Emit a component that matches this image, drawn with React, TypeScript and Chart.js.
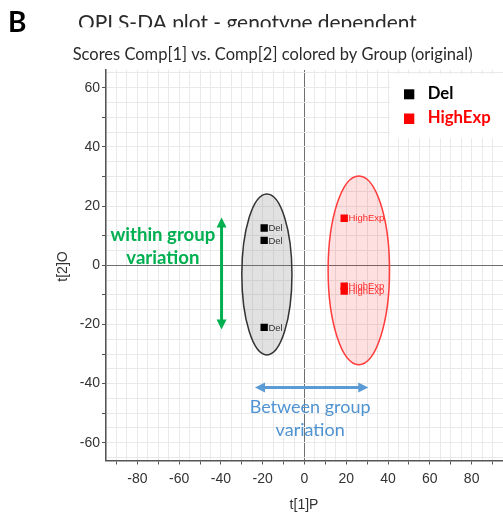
import React, { useEffect, useRef } from 'react';
import { Chart, registerables } from 'chart.js';

Chart.register(...registerables);

// ---- data ----
const groupNames = ['Del', 'HighExp'];
const groupColors = ['#000000', '#ff0000'];
const labelColors = ['#333333', '#ff2a2a'];
const delX = [-19.3, -19.3, -19.3];
const delY = [12.6, 8.4, -21.0];
const highExpX = [19.0, 19.0, 19.0];
const highExpY = [15.9, -7.1, -8.7];
// ellipse: [cx, cy, rx, ry] in data units
const delEllipse = [-18, -3.1, 12, 27.2];
const highExpEllipse = [26, -1.7, 14.7, 31.9];
// arrows: [x1, y1, x2, y2] in data units
const withinArrow = [-39.7, -21.7, -39.7, 16.1];
const betweenArrow = [-23.7, -41.3, 30.5, -41.3];
// annotation text: lines and anchors [cx, baselineY] in data units
const withinText = ['within group', 'variation'];
const withinAnchors = [[-67.8, 8.3], [-67.8, 0.5]];
const betweenText = ['Between group', 'variation'];
const betweenAnchors = [[2.7, -50.0], [2.7, -57.6]];
const xRange = [-95, 95];
const yRange = [-66, 66];
const mainTitle = 'OPLS-DA plot - genotype dependent';
const panelLetter = 'B';
const subTitle = 'Scores Comp[1] vs. Comp[2] colored by Group (original)';
const xTitle = 't[1]P';
const yTitle = 't[2]O';

const SANS = '"Liberation Sans", Arial, sans-serif';
const CAL = 'Lato, "Noto Sans", sans-serif';

function fitSize(ctx: CanvasRenderingContext2D, text: string, width: number, weight: string, family: string) {
  ctx.font = `${weight} 20px ${family}`;
  const w = ctx.measureText(text).width;
  return (20 * width) / w;
}

function drawArrow(ctx: CanvasRenderingContext2D, x1: number, y1: number, x2: number, y2: number, color: string, lw: number, headLen: number, headW: number) {
  const ang = Math.atan2(y2 - y1, x2 - x1);
  const len = Math.hypot(x2 - x1, y2 - y1);
  ctx.save();
  ctx.translate(x1, y1);
  ctx.rotate(ang);
  ctx.strokeStyle = color;
  ctx.fillStyle = color;
  ctx.lineWidth = lw;
  ctx.beginPath();
  ctx.moveTo(headLen - 1, 0);
  ctx.lineTo(len - headLen + 1, 0);
  ctx.stroke();
  ctx.beginPath();
  ctx.moveTo(0, 0);
  ctx.lineTo(headLen, -headW / 2);
  ctx.lineTo(headLen, headW / 2);
  ctx.closePath();
  ctx.fill();
  ctx.beginPath();
  ctx.moveTo(len, 0);
  ctx.lineTo(len - headLen, -headW / 2);
  ctx.lineTo(len - headLen, headW / 2);
  ctx.closePath();
  ctx.fill();
  ctx.restore();
}

const overlayPlugin = {
  id: 'overlay',
  beforeDatasetsDraw(chart: any) {
    const { ctx, scales } = chart;
    const x = scales.x;
    const y = scales.y;
    ctx.save();
    // legend background
    ctx.fillStyle = '#ffffff';
    ctx.fillRect(390, 74, 113, 64);
    const ell = (e: number[], fill: string, stroke: string) => {
      const cx = x.getPixelForValue(e[0]);
      const cy = y.getPixelForValue(e[1]);
      const rx = Math.abs(x.getPixelForValue(e[0] + e[2]) - cx);
      const ry = Math.abs(y.getPixelForValue(e[1] + e[3]) - cy);
      ctx.beginPath();
      ctx.ellipse(cx, cy, rx, ry, 0, 0, Math.PI * 2);
      ctx.fillStyle = fill;
      ctx.fill();
      ctx.lineWidth = 1.5;
      ctx.strokeStyle = stroke;
      ctx.stroke();
    };
    ell(delEllipse, 'rgba(120,120,120,0.22)', '#333333');
    ell(highExpEllipse, 'rgba(255,0,0,0.12)', '#ff3b3b');
    ctx.restore();
  },
  afterDatasetsDraw(chart: any) {
    const { ctx, scales } = chart;
    const x = scales.x;
    const y = scales.y;
    ctx.save();
    // point labels
    ctx.font = `9.5px ${SANS}`;
    ctx.textBaseline = 'middle';
    ctx.textAlign = 'left';
    chart.data.datasets.forEach((ds: any, i: number) => {
      const meta = chart.getDatasetMeta(i);
      ctx.fillStyle = labelColors[i];
      meta.data.forEach((el: any) => {
        ctx.fillText(groupNames[i], el.x + 4.3, el.y + 0.5);
      });
    });
    // arrows
    drawArrow(ctx, x.getPixelForValue(withinArrow[0]), y.getPixelForValue(withinArrow[1]), x.getPixelForValue(withinArrow[2]), y.getPixelForValue(withinArrow[3]), '#00b050', 3, 10, 10);
    drawArrow(ctx, x.getPixelForValue(betweenArrow[0]), y.getPixelForValue(betweenArrow[1]), x.getPixelForValue(betweenArrow[2]), y.getPixelForValue(betweenArrow[3]), '#5b9bd5', 3, 10, 10);
    // annotation texts
    ctx.textAlign = 'center';
    ctx.textBaseline = 'alphabetic';
    const gSize = fitSize(ctx, withinText[0], 105, 'bold', CAL);
    ctx.font = `bold ${gSize}px ${CAL}`;
    ctx.fillStyle = '#00b050';
    withinText.forEach((t, i) => {
      ctx.fillText(t, x.getPixelForValue(withinAnchors[i][0]), y.getPixelForValue(withinAnchors[i][1]));
    });
    const bSize = fitSize(ctx, betweenText[0], 121, 'normal', CAL);
    ctx.font = `normal ${bSize}px ${CAL}`;
    ctx.fillStyle = '#4f93d2';
    betweenText.forEach((t, i) => {
      ctx.fillText(t, x.getPixelForValue(betweenAnchors[i][0]), y.getPixelForValue(betweenAnchors[i][1]));
    });
    ctx.restore();
  },
  afterDraw(chart: any) {
    const { ctx } = chart;
    ctx.save();
    // panel letter
    ctx.fillStyle = '#000000';
    ctx.textAlign = 'left';
    ctx.textBaseline = 'alphabetic';
    ctx.font = `bold 28px ${CAL}`;
    ctx.fillText(panelLetter, 8, 31.5);
    // main title (clipped at bottom like the reference)
    const tSize = fitSize(ctx, mainTitle, 339, 'normal', CAL);
    ctx.save();
    ctx.beginPath();
    ctx.rect(0, 0, 503, 27.3);
    ctx.clip();
    ctx.font = `normal ${tSize}px ${CAL}`;
    ctx.fillStyle = '#2a2a2a';
    ctx.fillText(mainTitle, 78, 15 + 0.717 * tSize);
    ctx.restore();
    // subtitle
    const sSize = fitSize(ctx, subTitle, 400, 'normal', CAL);
    ctx.font = `normal ${sSize}px ${CAL}`;
    ctx.fillStyle = '#2a2a2a';
    ctx.fillText(subTitle, 72.7, 59.7);
    // axis titles
    ctx.font = `14px ${SANS}`;
    ctx.fillStyle = '#333333';
    ctx.textAlign = 'center';
    ctx.fillText(xTitle, 304, 509);
    ctx.save();
    ctx.translate(63.5, 266.5);
    ctx.rotate(-Math.PI / 2);
    ctx.textBaseline = 'middle';
    ctx.fillText(yTitle, 0, 0);
    ctx.restore();
    // legend
    ctx.textAlign = 'left';
    ctx.textBaseline = 'alphabetic';
    ctx.fillStyle = groupColors[0];
    ctx.fillRect(404, 89.3, 10.3, 10);
    ctx.fillStyle = groupColors[1];
    ctx.fillRect(404, 113.5, 10.3, 10.5);
    const lSize = fitSize(ctx, groupNames[1], 63, 'bold', CAL);
    ctx.font = `bold ${lSize}px ${CAL}`;
    ctx.fillStyle = groupColors[0];
    ctx.fillText(groupNames[0], 427.7, 99.3);
    ctx.fillStyle = groupColors[1];
    ctx.fillText(groupNames[1], 427.7, 122.5);
    ctx.restore();
  },
};

const tickLabel = (value: any) => {
  const v = Math.round(Number(value));
  return v % 20 === 0 ? String(v) : '';
};
const gridColor = (c: any) => (c.tick && Math.abs(c.tick.value) < 1e-9 ? '#6f6f6f' : '#e9e9e9');
const tickColor = (c: any) => (c.tick && Math.abs(Math.round(c.tick.value) % 10) === 0 ? '#555555' : 'rgba(0,0,0,0)');

export default function App() {
  const canvasRef = useRef<HTMLCanvasElement | null>(null);

  useEffect(() => {
    let chart: Chart | null = null;
    let cancelled = false;
    const make = () => {
      if (cancelled || !canvasRef.current) return;
      chart = new Chart(canvasRef.current, {
        type: 'scatter',
        data: {
          datasets: [
            {
              label: groupNames[0],
              data: delX.map((v, i) => ({ x: v, y: delY[i] })),
              backgroundColor: groupColors[0],
              pointStyle: 'rect',
              pointRadius: 5.2,
              pointBorderWidth: 0,
              borderWidth: 0,
            },
            {
              label: groupNames[1],
              data: highExpX.map((v, i) => ({ x: v, y: highExpY[i] })),
              backgroundColor: groupColors[1],
              pointStyle: 'rect',
              pointRadius: 5.2,
              pointBorderWidth: 0,
              borderWidth: 0,
            },
          ],
        },
        options: {
          responsive: false,
          animation: false,
          devicePixelRatio: 1,
          events: [],
          layout: { autoPadding: false, padding: { top: 70, left: 0, right: 0, bottom: 0 } },
          plugins: {
            legend: { display: false },
            tooltip: { enabled: false },
            title: { display: false },
          },
          scales: {
            x: {
              type: 'linear',
              min: xRange[0],
              max: xRange[1],
              afterFit: (s: any) => {
                s.height = 64.5;
                s.paddingLeft = 0;
                s.paddingRight = 0;
              },
              ticks: {
                stepSize: 5,
                includeBounds: false,
                autoSkip: false,
                maxRotation: 0,
                minRotation: 0,
                padding: 6,
                color: '#333333',
                font: { family: SANS, size: 14 },
                callback: tickLabel,
              },
              grid: { color: gridColor, lineWidth: 1, tickLength: 4, tickColor: tickColor, drawTicks: true },
              border: { display: true, color: '#555555', width: 1.5 },
            },
            y: {
              type: 'linear',
              min: yRange[0],
              max: yRange[1],
              afterFit: (s: any) => {
                s.width = 106;
                s.paddingTop = 0;
                s.paddingBottom = 0;
              },
              ticks: {
                stepSize: 5,
                includeBounds: false,
                autoSkip: false,
                padding: 2,
                color: '#333333',
                font: { family: SANS, size: 14 },
                callback: tickLabel,
              },
              grid: { color: gridColor, lineWidth: 1, tickLength: 4, tickColor: tickColor, drawTicks: true },
              border: { display: true, color: '#555555', width: 1.5 },
            },
          },
        },
        plugins: [overlayPlugin],
      } as any);
    };
    const fonts = (document as any).fonts;
    if (fonts && fonts.load) {
      Promise.all([
        fonts.load('16px Lato'),
        fonts.load('bold 16px Lato'),
        fonts.load('14px "Liberation Sans"'),
      ])
        .catch(() => null)
        .then(make);
    } else {
      make();
    }
    return () => {
      cancelled = true;
      if (chart) chart.destroy();
    };
  }, []);

  return (
    <div style={{ position: 'absolute', left: 0, top: 0, width: 503, height: 525, background: '#ffffff' }}>
      <canvas ref={canvasRef} width={503} height={525} style={{ display: 'block', width: 503, height: 525 }} />
    </div>
  );
}
